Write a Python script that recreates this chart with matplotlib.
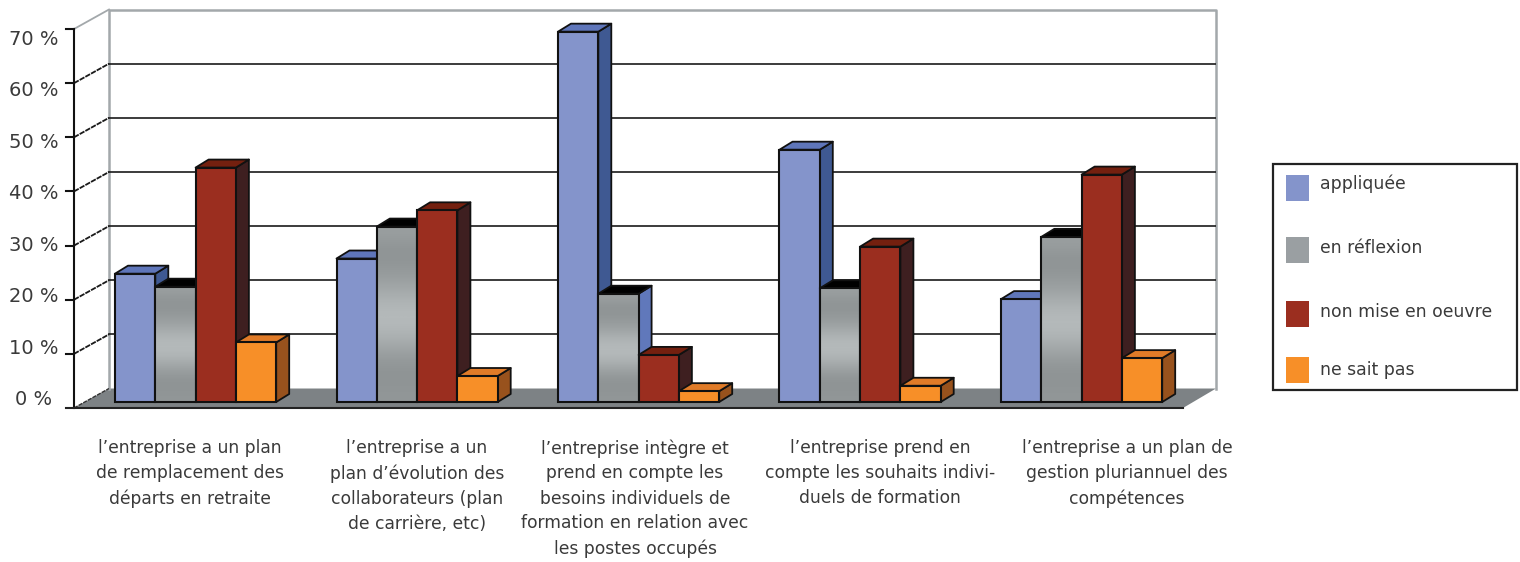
import matplotlib
matplotlib.use('Agg')
import matplotlib.pyplot as plt
import numpy as np
from matplotlib.colors import LinearSegmentedColormap
from matplotlib.patches import Polygon, Rectangle

plt.rcParams['font.family'] = ['DejaVu Sans']

W, H = 1520, 562
TEXT = '#3a3a3a'

# valeurs en %
appliquee = [23.7, 26.5, 68.4, 46.6, 19.0]
reflexion = [21.3, 32.4, 20.0, 21.0, 30.5]
non_mise = [43.3, 35.4, 8.7, 28.7, 42.0]
ne_sait_pas = [11.0, 4.8, 2.0, 3.0, 8.1]

series_names = ['appliquée', 'en réflexion', 'non mise en oeuvre', 'ne sait pas']
categories = [
    "l’entreprise a un plan\nde remplacement des\ndéparts en retraite",
    "l’entreprise a un\nplan d’évolution des\ncollaborateurs (plan\nde carrière, etc)",
    "l’entreprise intègre et\nprend en compte les\nbesoins individuels de\nformation en relation avec\nles postes occupés",
    "l’entreprise prend en\ncompte les souhaits indivi-\nduels de formation",
    "l’entreprise a un plan de\ngestion pluriannuel des\ncompétences",
]
y_ticks = [0, 10, 20, 30, 40, 50, 60, 70]

# face, dessus, cote
colors = [('#8494cb', '#5f76ba', '#3f5992'),
          ('#9a9fa2', '#000000', '#6078bb'),
          ('#9b2e1f', '#74200f', '#3e1f20'),
          ('#f78f28', '#e07b28', '#98521d')]

PX_X = 221.5          # pixels par groupe
PX_Y = (408 - 29) / 70  # pixels par %
BAR_W = 40.3 / PX_X
BASE = 6 / PX_Y
BAR_DX, BAR_DY = 13 / PX_X, 8 / PX_Y
BACK_DX, BACK_DY = 35 / PX_X, 3.6
RIGHT_FRONT = (1183 - 115) / PX_X
RIGHT_BACK = (1216 - 115) / PX_X
LEFT = (74 - 115) / PX_X

fig = plt.figure(figsize=(W / 100, H / 100), dpi=100)
ax = fig.add_axes([74 / W, 1 - 408 / H, (1216 - 74) / W, (408 - 29) / H])
ax.set_xlim(LEFT, RIGHT_BACK)
ax.set_ylim(0, 70)
ax.axis('off')

def face(points, color, z):
    ax.add_patch(Polygon(points, closed=True, facecolor=color, edgecolor='#111111',
                         linewidth=1.3, zorder=z, clip_on=False, joinstyle='round'))

# sol et parois
ax.add_patch(Polygon([(LEFT, 0), (LEFT + BACK_DX, BACK_DY), (RIGHT_BACK, BACK_DY), (RIGHT_FRONT, 0)],
                     closed=True, facecolor='#7d8285', edgecolor='none', zorder=1, clip_on=False))
back_left = LEFT + BACK_DX
ax.plot([back_left, back_left, RIGHT_BACK, RIGHT_BACK], [BACK_DY, 70 + BACK_DY, 70 + BACK_DY, BACK_DY],
        color='#a3a8ab', lw=1.8, zorder=2, clip_on=False)
ax.plot([LEFT, back_left], [70, 70 + BACK_DY], color='#a3a8ab', lw=1.3, zorder=2, clip_on=False)

for v in y_ticks[1:-1]:
    ax.plot([back_left, RIGHT_BACK], [v + BACK_DY, v + BACK_DY], color='#1a1a1a', lw=1.2, zorder=2)
    ax.plot([LEFT, back_left], [v, v + BACK_DY], color='#1a1a1a', lw=1.3, ls=(0, (3, 0.6)), zorder=2)
ax.plot([LEFT, back_left], [0, BACK_DY], color='#333333', lw=1, ls=(0, (3, 0.8)), zorder=2)

# barres, de gauche a droite pour que chacune recouvre le cote de la precedente
metal = LinearSegmentedColormap.from_list('metal', ['#8e9394', '#b6bbbc'])
gradient = np.array([0.3, 0.0, 0.1, 0.35, 0.75, 1.0, 0.9, 0.5, 0.1, 0.0, 0.1])[:, None]
z = 10
for g in range(len(categories)):
    for s, values in enumerate([appliquee, reflexion, non_mise, ne_sait_pas]):
        x = g + s * BAR_W
        top = BASE + values[g]
        front, up, side = colors[s]
        face([(x + BAR_W, BASE), (x + BAR_W + BAR_DX, BASE + BAR_DY),
              (x + BAR_W + BAR_DX, top + BAR_DY), (x + BAR_W, top)], side, z)
        face([(x, top), (x + BAR_DX, top + BAR_DY), (x + BAR_W + BAR_DX, top + BAR_DY),
              (x + BAR_W, top)], up, z)
        if s == 1:
            ax.imshow(gradient, extent=(x, x + BAR_W, BASE, top), cmap=metal, vmin=0, vmax=1,
                      aspect='auto', interpolation='bicubic', zorder=z + 1)
            ax.bar(x, values[g], BAR_W, bottom=BASE, align='edge', facecolor='none',
                   edgecolor='#111111', linewidth=1.5, zorder=z + 2)
        else:
            ax.bar(x, values[g], BAR_W, bottom=BASE, align='edge', facecolor=front,
                   edgecolor='#111111', linewidth=1.5, zorder=z + 2)
        z += 3
ax.set_xlim(LEFT, RIGHT_BACK)
ax.set_ylim(0, 70)

# axe vertical et ligne de base, par-dessus le reste
tick_x = LEFT - 8 / PX_X
ax.plot([LEFT, LEFT], [0, 70], color='#111111', lw=1.5, zorder=200, clip_on=False)
ax.plot([tick_x, RIGHT_FRONT], [0, 0], color='#222222', lw=1.5, zorder=200, clip_on=False)
for v in y_ticks[1:]:
    ax.plot([tick_x, LEFT], [v, v], color='#111111', lw=1.5, zorder=200, clip_on=False)

# les libelles de l'axe ont leur propre pas
for v in y_ticks:
    fig.text(33.5 / W, 1 - (399.5 - 5.143 * v) / H, '%d %%' % v, ha='center', va='center',
             fontsize=14, color=TEXT)

label_x = [190, 417, 635, 880, 1127]
for cx, label in zip(label_x, categories):
    fig.text(cx / W, 1 - 439 / H, label, ha='center', va='top', fontsize=12.3, color=TEXT,
             linespacing=1.5)

# legende
fig.add_artist(Rectangle((1273 / W, 1 - 390 / H), 244 / W, 226 / H, transform=fig.transFigure,
                         facecolor='white', edgecolor='#222222', linewidth=1.6))
swatch_y = [188, 250, 314, 370]
text_y = [184, 248, 312, 370]
for i, name in enumerate(series_names):
    fig.add_artist(Rectangle((1286 / W, 1 - (swatch_y[i] + 13) / H), 23 / W, 26 / H,
                             transform=fig.transFigure, facecolor=colors[i][0], edgecolor='none'))
    fig.text(1320 / W, 1 - text_y[i] / H, name, ha='left', va='center', fontsize=12.4, color=TEXT)

fig.savefig('out.png', dpi=100, facecolor='white')
